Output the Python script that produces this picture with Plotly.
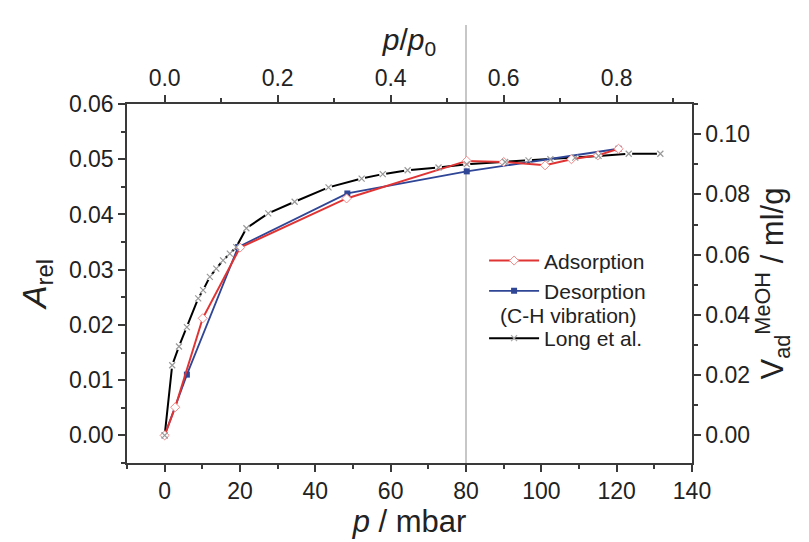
import plotly.graph_objects as go

# ---------------- data ----------------
ads_p = [0, 2.8, 10.1, 20, 48.3, 80.2, 90, 101, 108, 115, 120.5]
ads_A = [0, 0.0051, 0.0212, 0.0340, 0.0429, 0.0497, 0.0495, 0.0489, 0.0500, 0.0507, 0.0519]

des_p = [0, 5.9, 19.5, 48.5, 80.2, 120.5]
des_A = [0, 0.0110, 0.0341, 0.0438, 0.0478, 0.0519]

long_p = [0, 2.0, 3.8, 5.9, 8.9, 10.2, 12.0, 13.7, 15.5, 17.3, 19.0, 21.7, 27.5, 34.5,
          43.5, 52.3, 57.9, 64.5, 72.7, 80.2, 90.4, 96.6, 102.4, 109, 115.2, 123.2, 131.6]
long_A = [0, 0.0127, 0.0161, 0.0196, 0.0248, 0.0263, 0.0287, 0.0302, 0.0317, 0.0329, 0.0341,
          0.0375, 0.0402, 0.0423, 0.0449, 0.0465, 0.0473, 0.0480, 0.0485, 0.0491, 0.0495,
          0.0498, 0.0500, 0.0503, 0.0506, 0.0510, 0.0510]

P0 = 150.0          # mbar, saturation pressure for top axis
VLINE_P = 80        # mbar, reference line
X_RANGE = [-10, 140]
Y_RANGE = [-0.005, 0.06]
V_PER_A = 0.11 / 0.06   # right axis scale factor

FONT = "Liberation Sans, Arial, sans-serif"
AX = "#3a3a3a"
RED = "#e03434"
BLUE = "#2f4596"
TXT = "#222222"

fig = go.Figure()

fig.add_trace(go.Scatter(
    x=long_p, y=long_A, mode="lines", line=dict(color="black", width=2),
    showlegend=False, hoverinfo="skip"))
fig.add_trace(go.Scatter(
    x=long_p, y=long_A, mode="markers",
    marker=dict(symbol="circle", size=7, color="white"),
    showlegend=False, hoverinfo="skip"))

fig.add_trace(go.Scatter(
    x=des_p, y=des_A, mode="lines+markers", name="Desorption",
    line=dict(color=BLUE, width=1.8),
    marker=dict(symbol="square", size=6, color=BLUE),
    legendgroup="g1", legendrank=2))
fig.add_trace(go.Scatter(
    x=ads_p, y=ads_A, mode="lines+markers", name="Adsorption",
    line=dict(color=RED, width=2),
    marker=dict(symbol="diamond", size=7, color="white", line=dict(color="#f08a8a", width=1)),
    legendgroup="g1", legendrank=1))
fig.add_trace(go.Scatter(
    x=long_p, y=long_A, mode="markers", name="Long et al.",
    marker=dict(symbol="x-thin", size=6, color="#999999", line=dict(color="#999999", width=1.2)),
    showlegend=False))
# legend proxy for Long et al.
fig.add_trace(go.Scatter(
    x=[None], y=[None], mode="lines+markers", name="Long et al.",
    line=dict(color="black", width=2),
    marker=dict(symbol="x-thin", size=6, color="#999999", line=dict(color="#aaaaaa", width=1.2)),
    legendgroup="g2", legendrank=3))

# dummy traces for secondary axes
fig.add_trace(go.Scatter(x=[None], y=[None], xaxis="x2", yaxis="y", showlegend=False))
fig.add_trace(go.Scatter(x=[None], y=[None], xaxis="x", yaxis="y2", showlegend=False))

fig.add_shape(type="line", xref="x", yref="paper", x0=VLINE_P, x1=VLINE_P, y0=0, y1=1.22,
              line=dict(color="#b5b5b5", width=1.5), layer="below")

axis_common = dict(showline=True, linecolor=AX, linewidth=1.5, ticks="outside",
                   tickcolor=AX, tickwidth=1.5, ticklen=7, showgrid=False, zeroline=False,
                   automargin=False,
                   tickfont=dict(family=FONT, size=23, color=TXT),
                   minor=dict(ticks="outside", ticklen=4, tickcolor=AX, tickwidth=1.5))

fig.update_layout(
    width=809, height=542,
    margin=dict(l=127, r=117, t=104, b=79),
    paper_bgcolor="white", plot_bgcolor="white",
    font=dict(family=FONT, color=TXT),
    xaxis=dict(range=X_RANGE, tick0=0, dtick=20, minor_dtick=10,
               title=dict(text="<i>p</i> / mbar", font=dict(size=31), standoff=4),
               **axis_common),
    xaxis2=dict(range=[X_RANGE[0] / P0, X_RANGE[1] / P0], overlaying="x", side="top",
                tick0=0, dtick=0.2, minor_dtick=0.1, tickformat=".1f",
                title=dict(text="<i>p</i>/<i>p</i><sub>0</sub>", font=dict(size=30), standoff=6),
                **axis_common),
    yaxis=dict(range=Y_RANGE, tick0=0, dtick=0.01, minor_dtick=0.005, tickformat=".2f",
               title=dict(text="<i>A</i><sub>rel</sub>", font=dict(size=34), standoff=12),
               **axis_common),
    yaxis2=dict(range=[Y_RANGE[0] * V_PER_A, Y_RANGE[1] * V_PER_A], overlaying="y", side="right",
                tick0=0, dtick=0.02, minor_dtick=0.01, tickformat=".2f",
                title=dict(text="V<sub>ad</sub><sup>MeOH</sup> / ml/g", font=dict(size=31), standoff=12),
                **axis_common),
    legend=dict(x=0.632, y=0.62, xanchor="left", yanchor="top", bgcolor="rgba(0,0,0,0)",
                font=dict(family=FONT, size=21, color=TXT), tracegroupgap=17,
                itemwidth=50, traceorder="grouped"),
    annotations=[dict(text="(C-H vibration)", xref="paper", yref="paper", x=0.657, y=0.412,
                      xanchor="left", yanchor="middle", showarrow=False,
                      font=dict(family=FONT, size=21, color=TXT))],
)

fig.write_html("out.html")
